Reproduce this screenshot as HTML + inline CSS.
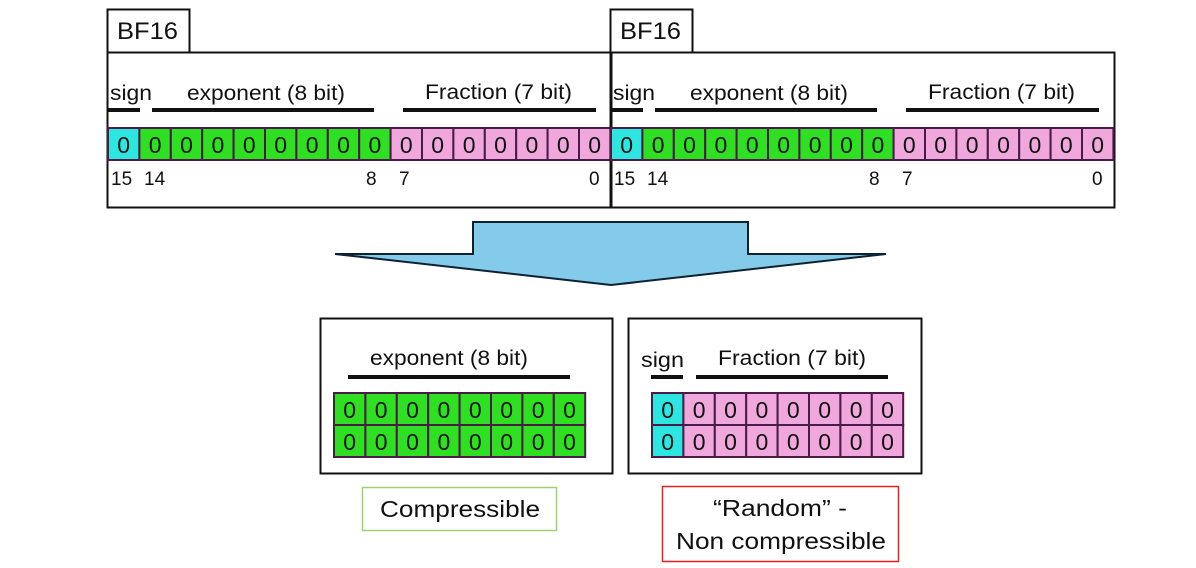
<!DOCTYPE html>
<html><head><meta charset="utf-8"><style>
html,body{margin:0;padding:0;background:#fff;}
svg{display:block;font-family:"Liberation Sans",sans-serif;}
</style></head><body>
<svg width="1196" height="568" viewBox="0 0 1196 568" xmlns="http://www.w3.org/2000/svg">
<g id="bf" font-size="21" fill="#111">
  <rect x="107.5" y="9.5" width="82" height="43" fill="#fff" stroke="#111" stroke-width="2"/>
  <text x="117" y="39" font-size="24" textLength="61" lengthAdjust="spacingAndGlyphs">BF16</text>
  <rect x="107.5" y="52.5" width="504" height="155" fill="none" stroke="#111" stroke-width="2"/>
  <text x="110" y="100" textLength="42" lengthAdjust="spacingAndGlyphs">sign</text>
  <text x="187" y="100" textLength="158" lengthAdjust="spacingAndGlyphs">exponent (8 bit)</text>
  <text x="425" y="99" textLength="147" lengthAdjust="spacingAndGlyphs">Fraction (7 bit)</text>
  <rect x="108" y="108" width="32" height="4" fill="#111"/>
  <rect x="152" y="108" width="222" height="4" fill="#111"/>
  <rect x="403" y="108" width="193" height="4" fill="#111"/>
  <g stroke="#4a1a48" stroke-width="2">
    <rect x="108" y="128" width="31.4" height="32" fill="#2ee6e0"/>
    <rect x="139.4" y="128" width="31.4" height="32" fill="#2ee021"/>
    <rect x="170.8" y="128" width="31.4" height="32" fill="#2ee021"/>
    <rect x="202.2" y="128" width="31.4" height="32" fill="#2ee021"/>
    <rect x="233.6" y="128" width="31.4" height="32" fill="#2ee021"/>
    <rect x="265" y="128" width="31.4" height="32" fill="#2ee021"/>
    <rect x="296.4" y="128" width="31.4" height="32" fill="#2ee021"/>
    <rect x="327.8" y="128" width="31.4" height="32" fill="#2ee021"/>
    <rect x="359.2" y="128" width="31.4" height="32" fill="#2ee021"/>
    <rect x="390.6" y="128" width="31.4" height="32" fill="#f0a8dc"/>
    <rect x="422" y="128" width="31.4" height="32" fill="#f0a8dc"/>
    <rect x="453.4" y="128" width="31.4" height="32" fill="#f0a8dc"/>
    <rect x="484.8" y="128" width="31.4" height="32" fill="#f0a8dc"/>
    <rect x="516.2" y="128" width="31.4" height="32" fill="#f0a8dc"/>
    <rect x="547.6" y="128" width="31.4" height="32" fill="#f0a8dc"/>
    <rect x="579" y="128" width="31.4" height="32" fill="#f0a8dc"/>
  </g>
  <g font-size="23" text-anchor="middle">
    <text x="123.7" y="153">0</text><text x="155.1" y="153">0</text><text x="186.5" y="153">0</text><text x="217.9" y="153">0</text><text x="249.3" y="153">0</text><text x="280.7" y="153">0</text><text x="312.1" y="153">0</text><text x="343.5" y="153">0</text><text x="374.9" y="153">0</text><text x="406.3" y="153">0</text><text x="437.7" y="153">0</text><text x="469.1" y="153">0</text><text x="500.5" y="153">0</text><text x="531.9" y="153">0</text><text x="563.3" y="153">0</text><text x="594.7" y="153">0</text>
  </g>
  <g font-size="19">
    <text x="111" y="185">15</text><text x="144" y="185">14</text><text x="366" y="185">8</text><text x="399" y="185">7</text><text x="589" y="185">0</text>
  </g>
</g>
<use href="#bf" x="503"/>

<polygon points="473,222 748,222 748,254 886,254 611,285 335,254 473,254" fill="#84cbea" stroke="#0d2233" stroke-width="2"/>

<rect x="320.5" y="318.5" width="292" height="155" fill="none" stroke="#111" stroke-width="2"/>
<text x="370" y="365" font-size="21" fill="#111" textLength="158" lengthAdjust="spacingAndGlyphs">exponent (8 bit)</text>
<rect x="348" y="375" width="222" height="4" fill="#111"/>
<g stroke="#4a1a48" stroke-width="2" fill="#2ee021">
  <rect x="334" y="393" width="31.4" height="32"/><rect x="365.4" y="393" width="31.4" height="32"/><rect x="396.8" y="393" width="31.4" height="32"/><rect x="428.2" y="393" width="31.4" height="32"/><rect x="459.6" y="393" width="31.4" height="32"/><rect x="491" y="393" width="31.4" height="32"/><rect x="522.4" y="393" width="31.4" height="32"/><rect x="553.8" y="393" width="31.4" height="32"/>
  <rect x="334" y="425" width="31.4" height="32"/><rect x="365.4" y="425" width="31.4" height="32"/><rect x="396.8" y="425" width="31.4" height="32"/><rect x="428.2" y="425" width="31.4" height="32"/><rect x="459.6" y="425" width="31.4" height="32"/><rect x="491" y="425" width="31.4" height="32"/><rect x="522.4" y="425" width="31.4" height="32"/><rect x="553.8" y="425" width="31.4" height="32"/>
</g>
<g font-size="23" text-anchor="middle" fill="#111">
  <text x="349.7" y="418">0</text><text x="381.1" y="418">0</text><text x="412.5" y="418">0</text><text x="443.9" y="418">0</text><text x="475.3" y="418">0</text><text x="506.7" y="418">0</text><text x="538.1" y="418">0</text><text x="569.5" y="418">0</text>
  <text x="349.7" y="450">0</text><text x="381.1" y="450">0</text><text x="412.5" y="450">0</text><text x="443.9" y="450">0</text><text x="475.3" y="450">0</text><text x="506.7" y="450">0</text><text x="538.1" y="450">0</text><text x="569.5" y="450">0</text>
</g>

<rect x="628.5" y="318.5" width="293" height="155" fill="none" stroke="#111" stroke-width="2"/>
<text x="641" y="367" font-size="21" fill="#111" textLength="43" lengthAdjust="spacingAndGlyphs">sign</text>
<text x="718" y="365" font-size="21" fill="#111" textLength="148" lengthAdjust="spacingAndGlyphs">Fraction (7 bit)</text>
<rect x="651" y="375" width="32" height="4" fill="#111"/>
<rect x="696" y="375" width="192" height="4" fill="#111"/>
<g stroke="#4a1a48" stroke-width="2" fill="#f0a8dc">
  <rect x="652" y="393" width="31.4" height="32" fill="#2ee6e0"/><rect x="683.4" y="393" width="31.4" height="32"/><rect x="714.8" y="393" width="31.4" height="32"/><rect x="746.2" y="393" width="31.4" height="32"/><rect x="777.6" y="393" width="31.4" height="32"/><rect x="809" y="393" width="31.4" height="32"/><rect x="840.4" y="393" width="31.4" height="32"/><rect x="871.8" y="393" width="31.4" height="32"/>
  <rect x="652" y="425" width="31.4" height="32" fill="#2ee6e0"/><rect x="683.4" y="425" width="31.4" height="32"/><rect x="714.8" y="425" width="31.4" height="32"/><rect x="746.2" y="425" width="31.4" height="32"/><rect x="777.6" y="425" width="31.4" height="32"/><rect x="809" y="425" width="31.4" height="32"/><rect x="840.4" y="425" width="31.4" height="32"/><rect x="871.8" y="425" width="31.4" height="32"/>
</g>
<g font-size="23" text-anchor="middle" fill="#111">
  <text x="667.7" y="418">0</text><text x="699.1" y="418">0</text><text x="730.5" y="418">0</text><text x="761.9" y="418">0</text><text x="793.3" y="418">0</text><text x="824.7" y="418">0</text><text x="856.1" y="418">0</text><text x="887.5" y="418">0</text>
  <text x="667.7" y="450">0</text><text x="699.1" y="450">0</text><text x="730.5" y="450">0</text><text x="761.9" y="450">0</text><text x="793.3" y="450">0</text><text x="824.7" y="450">0</text><text x="856.1" y="450">0</text><text x="887.5" y="450">0</text>
</g>

<rect x="362.5" y="487.5" width="194" height="43" fill="#fff" stroke="#9ed36a" stroke-width="1.5"/>
<text x="380" y="517" font-size="23" fill="#111" textLength="160" lengthAdjust="spacingAndGlyphs">Compressible</text>
<rect x="662.5" y="486.5" width="236" height="75" fill="#fff" stroke="#e8201c" stroke-width="1.5"/>
<text x="713" y="516" font-size="23" fill="#111" textLength="134" lengthAdjust="spacingAndGlyphs">“Random” -</text>
<text x="676" y="549" font-size="23" fill="#111" textLength="210" lengthAdjust="spacingAndGlyphs">Non compressible</text>
</svg>
</body></html>
